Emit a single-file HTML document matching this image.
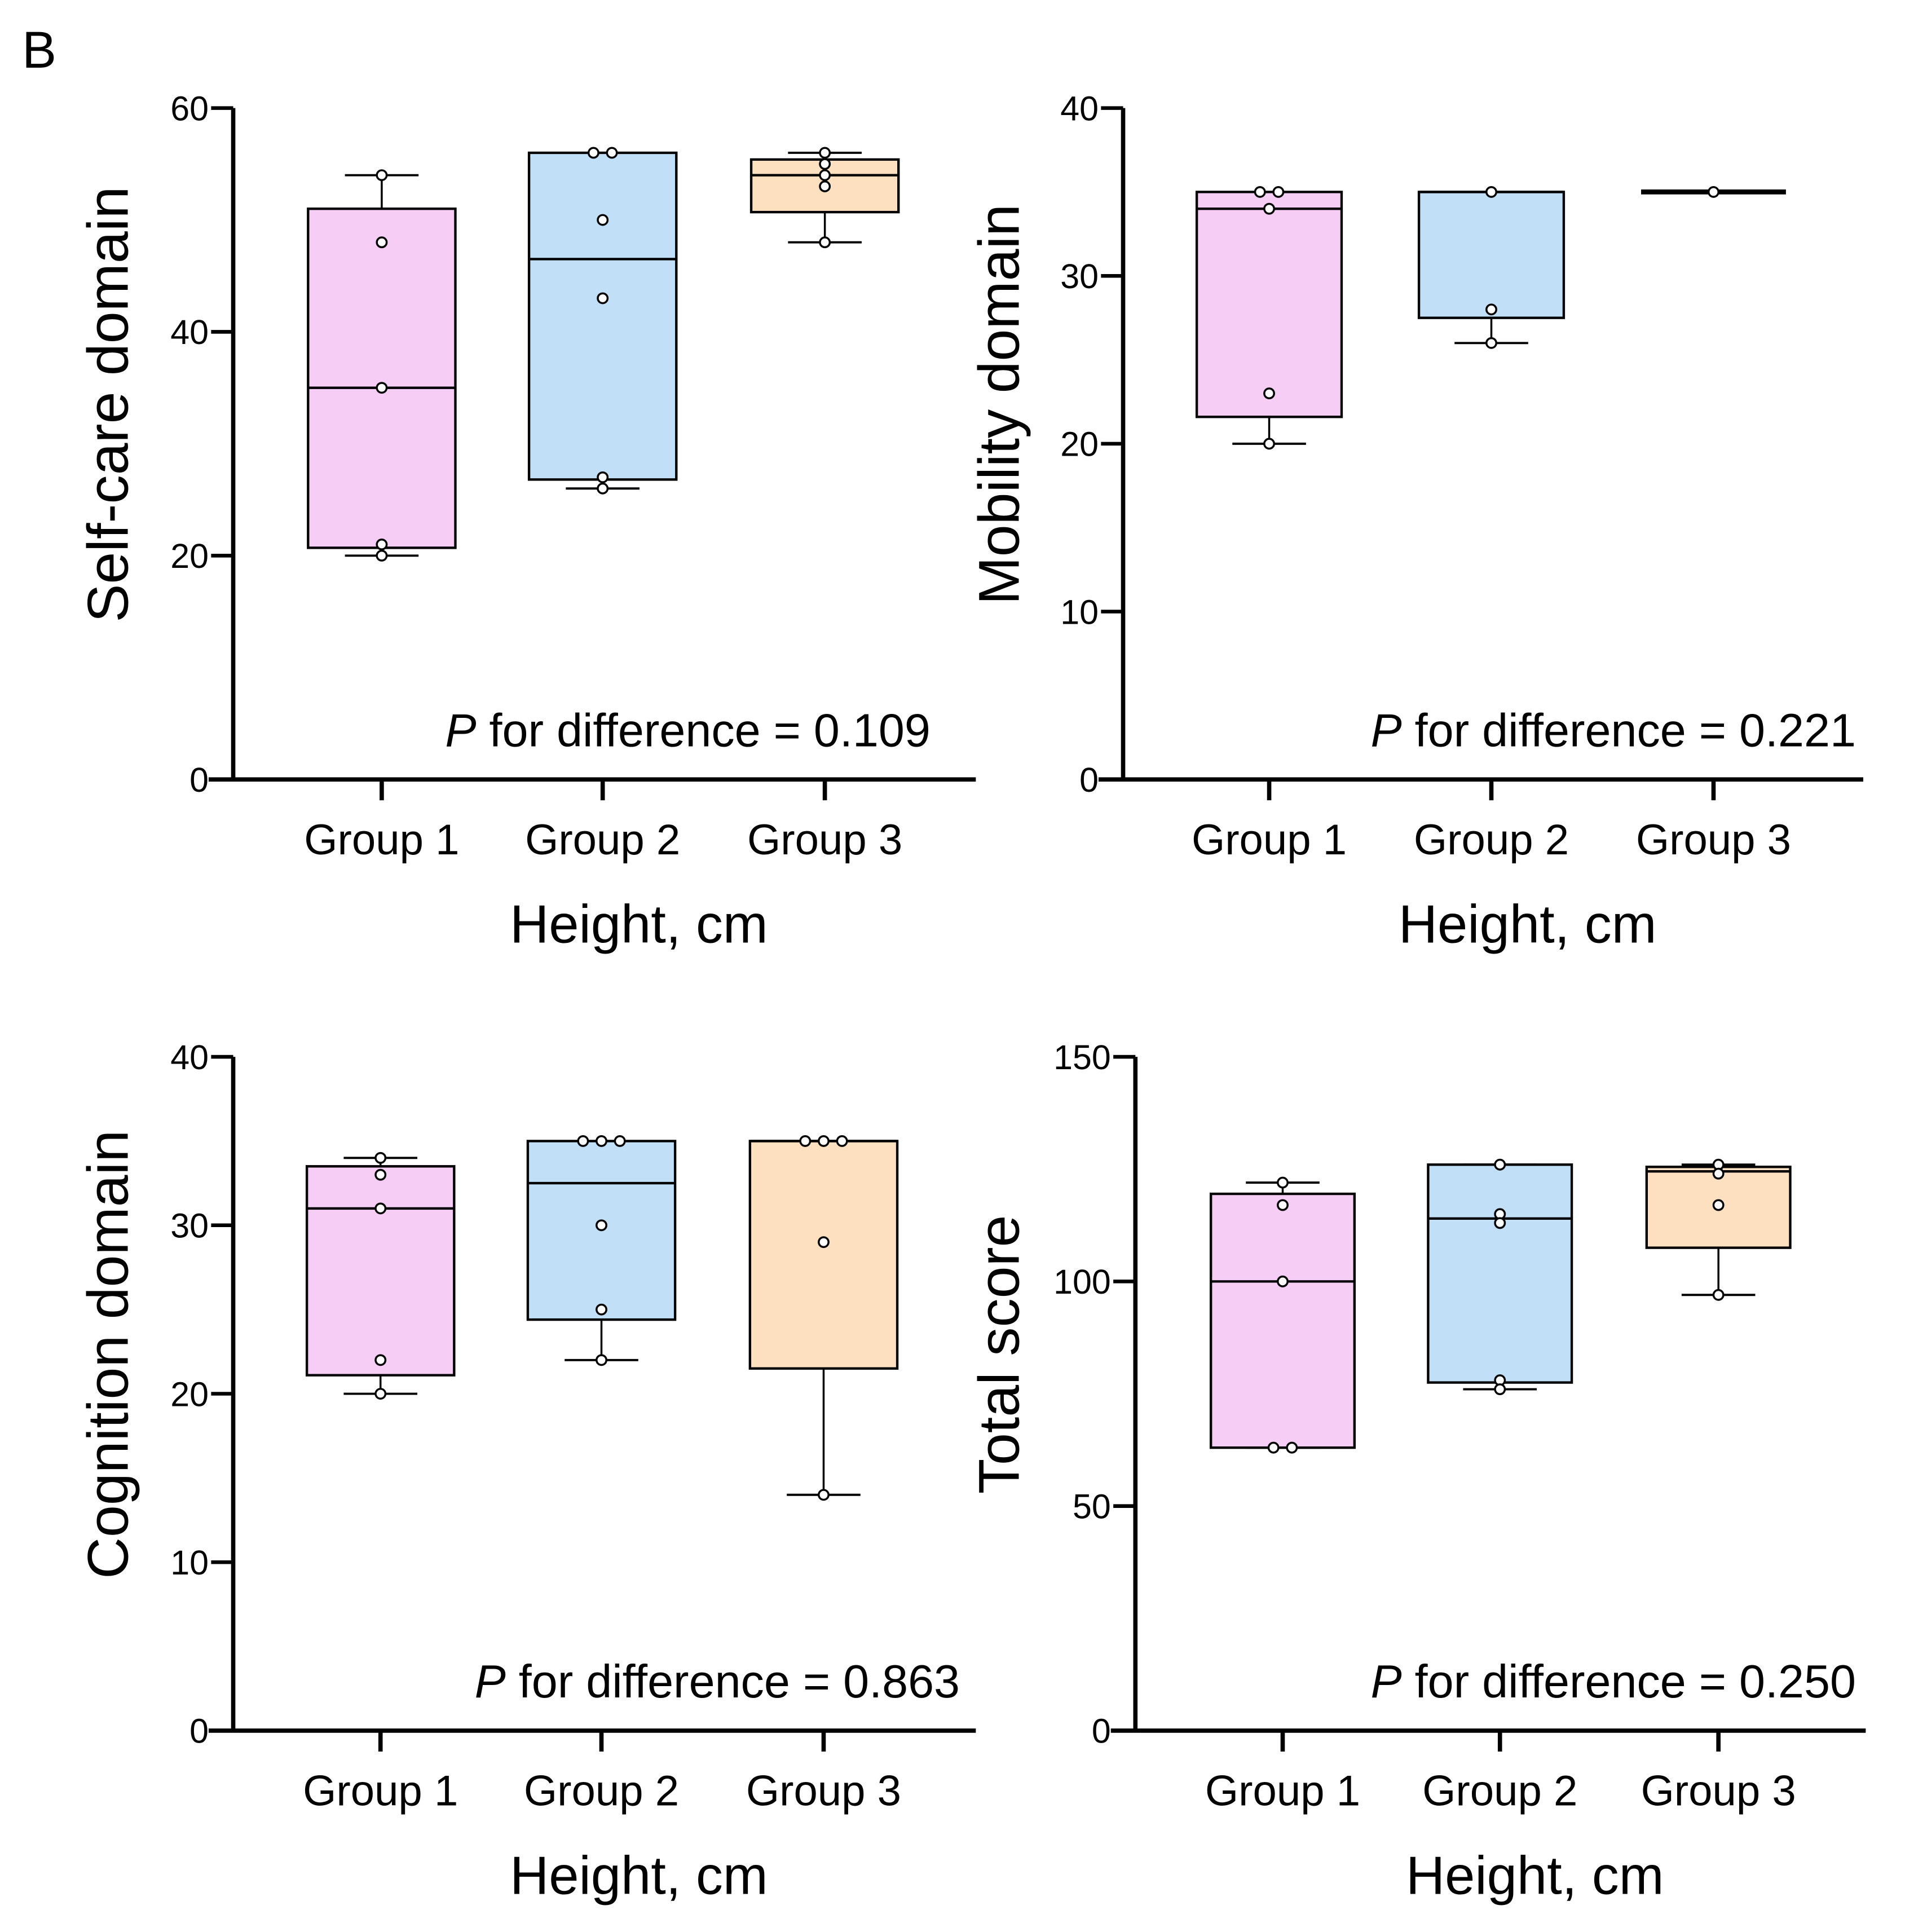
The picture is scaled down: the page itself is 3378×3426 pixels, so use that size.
<!DOCTYPE html>
<html><head><meta charset="utf-8"><style>
html,body{margin:0;padding:0;background:#fff}
svg{display:block}
text{font-family:"Liberation Sans",sans-serif;fill:#000}
</style></head><body>
<svg id="fig" width="3378" height="3426" viewBox="0 0 1552 1574" xmlns="http://www.w3.org/2000/svg">
<text x="18" y="55" font-size="42">B</text>
</svg>
<script>
const groupLabels = ["Group 1","Group 2","Group 3"];
const colors = ["#f6cdf5","#c1dff6","#fde0c0"];
// Panel 1: Self-care
const p1Ticks = [0,20,40,60];
const p1Q1 = [20.7,26.8,50.7];
const p1Q3 = [51,56,55.4];
const p1Med = [35,46.5,54];
const p1Lo = [20,26,48];
const p1Hi = [54,56,56];
const p1Pts = [[54,48,35,21,20],[56,56,50,43,27,26],[56,55,54,53,48]];
// Panel 2: Mobility
const p2Ticks = [0,10,20,30,40];
const p2Q1 = [21.6,27.5,35];
const p2Q3 = [35,35,35];
const p2Med = [34,35,35];
const p2Lo = [20,26,35];
const p2Hi = [35,35,35];
const p2Pts = [[35,35,34,23,20],[35,28,26],[35]];
// Panel 3: Cognition
const p3Ticks = [0,10,20,30,40];
const p3Q1 = [21.1,24.4,21.5];
const p3Q3 = [33.5,35,35];
const p3Med = [31,32.5,35];
const p3Lo = [20,22,14];
const p3Hi = [34,35,35];
const p3Pts = [[34,33,31,22,20],[35,35,35,30,25,22],[35,35,35,29,14]];
// Panel 4: Total
const p4Ticks = [0,50,100,150];
const p4Q1 = [63,77.5,107.5];
const p4Q3 = [119.5,126,125.5];
const p4Med = [100,114,124.5];
const p4Lo = [63,76,97];
const p4Hi = [122,126,126];
const p4Pts = [[122,117,100,63,63],[126,115,113,78,76],[126,124,117,97]];
const pVals = ["0.109","0.221","0.863","0.250"];
const yTitles = ["Self-care domain","Mobility domain","Cognition domain","Total score"];

const NS="http://www.w3.org/2000/svg";
const svg=document.getElementById('fig');
function mk(tag,attrs,parent){const e=document.createElementNS(NS,tag);for(const k in attrs)e.setAttribute(k,attrs[k]);(parent||svg).appendChild(e);return e;}

const layouts=[
 {ax:190,top:88,bot:635,right:795,gx:[311,491,672],bw:120,ymax:60,ty:100,px:758,pY:608},
 {ax:915,top:88,bot:635,right:1518,gx:[1034,1215,1396],bw:118,ymax:40,ty:826,px:1512,pY:608},
 {ax:190,top:861,bot:1410,right:795,gx:[310,490,671],bw:120,ymax:40,ty:100,px:782,pY:1383},
 {ax:925,top:861,bot:1410,right:1520,gx:[1045,1222,1400],bw:117,ymax:150,ty:826,px:1512,pY:1383}
];
const data=[
 [p1Ticks,p1Q1,p1Q3,p1Med,p1Lo,p1Hi,p1Pts],
 [p2Ticks,p2Q1,p2Q3,p2Med,p2Lo,p2Hi,p2Pts],
 [p3Ticks,p3Q1,p3Q3,p3Med,p3Lo,p3Hi,p3Pts],
 [p4Ticks,p4Q1,p4Q3,p4Med,p4Lo,p4Hi,p4Pts]
];
data.forEach((d,i)=>{
 const L=layouts[i];const [ticks,q1,q3,med,lo,hi,pts]=d;
 const g=mk('g',{});
 
 
 const y=v=>L.bot-(v/L.ymax)*(L.bot-L.top);
 groupLabels.forEach((lab,k)=>{
  const cx=L.gx[k],hw=L.bw/2;
  const wl=mk('line',{x1:cx,x2:cx,y1:y(lo[k]),y2:y(hi[k]),stroke:'#000','stroke-width':1.6},g);
  
  
  [lo[k],hi[k]].forEach(v=>{mk('line',{x1:cx-30,x2:cx+30,y1:y(v),y2:y(v),stroke:'#000','stroke-width':1.8},g);});
  const flat=q3[k]-q1[k]<0.01;
  const r=mk('rect',{x:cx-hw,y:y(q3[k]),width:L.bw,height:Math.max(0,y(q1[k])-y(q3[k])),fill:colors[k],stroke:'#000','stroke-width':flat?4:2},g);
  
  
  const m=mk('line',{x1:cx-hw,x2:cx+hw,y1:y(med[k]),y2:y(med[k]),stroke:'#000','stroke-width':flat?4:2},g);
  
  
  const counts={};pts[k].forEach(v=>counts[v]=(counts[v]||0)+1);
  const seen={};
  pts[k].forEach(v=>{
   const n=counts[v];const j=seen[v]||0;seen[v]=j+1;
   const off=(j-(n-1)/2)*15;
   const c=mk('circle',{cx:cx+off,cy:y(v),r:4,fill:'#fff',stroke:'#000','stroke-width':1.6},g);
   
   
  });
  mk('line',{x1:cx,x2:cx,y1:L.bot,y2:L.bot+17,stroke:'#000','stroke-width':3.5},g);
  const t=mk('text',{x:cx,y:L.bot+61,'font-size':35,'text-anchor':'middle'},g);t.textContent=lab;
  
  
 });
 mk('line',{x1:L.ax,x2:L.ax,y1:L.top,y2:L.bot+1.5,stroke:'#000','stroke-width':3.5},g);
 const xa=mk('line',{x1:L.ax-20,x2:L.right,y1:L.bot,y2:L.bot,stroke:'#000','stroke-width':3.5},g);
 
 
 ticks.forEach(v=>{
  mk('line',{x1:L.ax-18,x2:L.ax,y1:y(v),y2:y(v),stroke:'#000','stroke-width':3},g);
  const t=mk('text',{x:L.ax-20,y:y(v)+10,'font-size':28,'text-anchor':'end'},g);t.textContent=v;
  
  
 });
 const yt=mk('text',{x:0,y:0,'font-size':47,'text-anchor':'middle',transform:`translate(${L.ty+4},${(L.top+L.bot)/2-32}) rotate(-90)`},g);
 yt.textContent=yTitles[i];
 
 
 const xt=mk('text',{x:(L.ax+L.right)/2+28,y:L.bot+133,'font-size':44,'text-anchor':'middle'},g);
 xt.textContent='Height, cm';
 
 
 const pt=mk('text',{x:L.px,y:L.pY,'font-size':38,'text-anchor':'end'},g);
 pt.innerHTML='<tspan font-style="italic">P</tspan> for difference = '+pVals[i];
 
 
});
</script>
</body></html>
